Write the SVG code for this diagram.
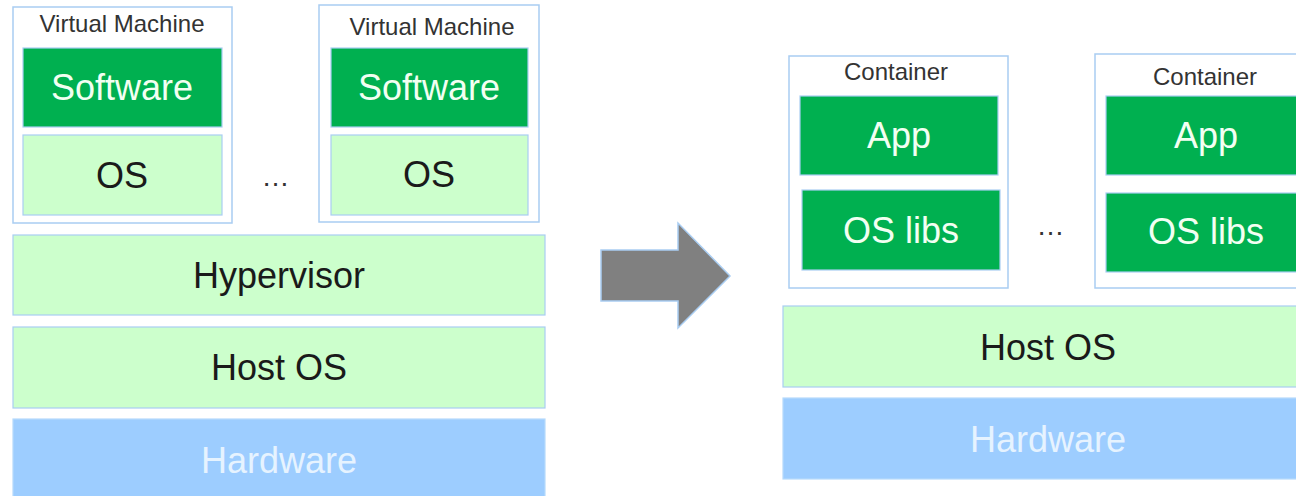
<svg xmlns="http://www.w3.org/2000/svg" width="1296" height="496" viewBox="0 0 1296 496">
<style>
text{font-family:"Liberation Sans",Arial,sans-serif;text-anchor:middle}
.frame{fill:#ffffff;stroke:#a9cdf2;stroke-width:1.5}
.dk{fill:#00b050;stroke:#a9cdf2;stroke-width:1.2}
.lt{fill:#ccffcc;stroke:#a9cdf2;stroke-width:1.2}
.hw{fill:#9dcdff;stroke:#b6dafc;stroke-width:1.2}
.t1{font-size:24px;fill:#333333}
.tw{font-size:36px;fill:#f2fff2}
.tb{font-size:36px;fill:#1a1a1a}
.th{font-size:36px;fill:#e6f3ff}
.dots{font-size:28px;fill:#333333;letter-spacing:1px}
</style>
<g id="vm1">
<rect class="frame" x="13" y="7" width="219" height="216"/>
<text class="t1" x="122" y="32">Virtual Machine</text>
<rect class="dk" x="23" y="48" width="199" height="79"/>
<text class="tw" x="122" y="100">Software</text>
<rect class="lt" x="23" y="135" width="199" height="80"/>
<text class="tb" x="122" y="188">OS</text>
</g>
<g id="vm2">
<rect class="frame" x="319" y="5" width="220" height="217"/>
<text class="t1" x="432" y="35">Virtual Machine</text>
<rect class="dk" x="331" y="48" width="197" height="79"/>
<text class="tw" x="429" y="100">Software</text>
<rect class="lt" x="331" y="135" width="197" height="80"/>
<text class="tb" x="429" y="187">OS</text>
</g>
<text class="dots" x="276" y="186">…</text>
<g id="hypervisor">
<rect class="lt" x="13" y="235" width="532" height="80"/>
<text class="tb" x="279" y="288">Hypervisor</text>
</g>
<g id="hostos-left">
<rect class="lt" x="13" y="327" width="532" height="81"/>
<text class="tb" x="279" y="380">Host OS</text>
</g>
<g id="hardware-left">
<rect class="hw" x="13" y="419" width="532" height="80"/>
<text class="th" x="279" y="473">Hardware</text>
</g>
<g id="connectors">
<polygon points="601,250 678,250 678,223 730,276 678,328 678,301 601,301" fill="#808080" stroke="#a9cdf2" stroke-width="1.5"/>
</g>
<g id="container1">
<rect class="frame" x="789" y="56" width="219" height="232"/>
<text class="t1" x="896" y="80">Container</text>
<rect class="dk" x="800" y="96" width="198" height="79"/>
<text class="tw" x="899" y="148">App</text>
<rect class="dk" x="802" y="190" width="198" height="80"/>
<text class="tw" x="901" y="243">OS libs</text>
</g>
<g id="container2">
<rect class="frame" x="1095" y="54" width="219" height="234"/>
<text class="t1" x="1205" y="85">Container</text>
<rect class="dk" x="1106" y="96" width="200" height="79"/>
<text class="tw" x="1206" y="148">App</text>
<rect class="dk" x="1106" y="193" width="200" height="79"/>
<text class="tw" x="1206" y="244">OS libs</text>
</g>
<text class="dots" x="1051" y="235">…</text>
<g id="hostos-right">
<rect class="lt" x="783" y="306" width="530" height="81"/>
<text class="tb" x="1048" y="360">Host OS</text>
</g>
<g id="hardware-right">
<rect class="hw" x="783" y="398" width="530" height="81"/>
<text class="th" x="1048" y="452">Hardware</text>
</g>
</svg>
